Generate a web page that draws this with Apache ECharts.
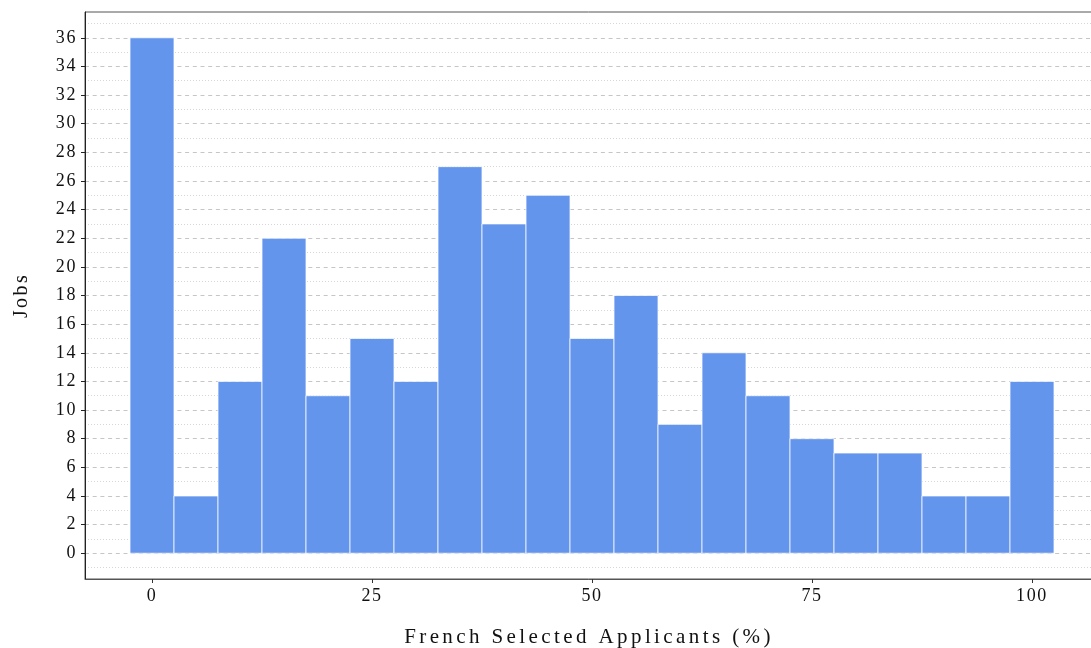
<!DOCTYPE html>
<html>
<head>
<meta charset="utf-8">
<script src="https://cdn.jsdelivr.net/npm/echarts@6/dist/echarts.min.js"></script>
<style>
  html, body { margin: 0; padding: 0; background: #fff; }
  #main { width: 1091px; height: 648px; }
</style>
</head>
<body>
<div id="main"></div>
<script>
// histogram bins (centre of each 5-point bin) and job counts
var binCenters = [0, 5, 10, 15, 20, 25, 30, 35, 40, 45, 50, 55, 60, 65, 70, 75, 80, 85, 90, 95, 100];
var jobs = [36, 4, 12, 22, 11, 15, 12, 27, 23, 25, 15, 18, 9, 14, 11, 8, 7, 7, 4, 4, 12];
var binWidth = 5;

// tick labels
var xTicks = [0, 25, 50, 75, 100];
var yTicks = [0, 2, 4, 6, 8, 10, 12, 14, 16, 18, 20, 22, 24, 26, 28, 30, 32, 34, 36];
var yMinorTicks = [-1, 1, 3, 5, 7, 9, 11, 13, 15, 17, 19, 21, 23, 25, 27, 29, 31, 33, 35, 37];

var FONT = "'Liberation Serif', 'DejaVu Serif', serif";

// canvas text gets letter spacing like the original (wider for the axis titles)
var origFillText = CanvasRenderingContext2D.prototype.fillText;
CanvasRenderingContext2D.prototype.fillText = function (t, x, y, w) {
  if (this.font.indexOf("21px") >= 0) {
    this.letterSpacing = "3.4px";
  } else if (this.font.indexOf("20px") >= 0) {
    this.letterSpacing = "2.4px";
  } else {
    this.letterSpacing = "1.6px";
  }
  return origFillText.call(this, t, x, y, w);
};

var seriesData = [];
for (var i = 0; i < binCenters.length; i++) {
  seriesData.push([binCenters[i], jobs[i]]);
}

var chart = echarts.init(document.getElementById("main"));

var option = {
  animation: false,
  backgroundColor: "#fff",
  grid: {
    left: 85,
    right: -2, // right border falls just outside the picture, as in the original
    top: 12,
    bottom: 69,
    outerBoundsMode: "none",
    containLabel: false,
    show: true,
    borderColor: "#555",
    borderWidth: 1
  },
  xAxis: {
    type: "value",
    min: -7.614,
    max: 106.93,
    name: "French Selected Applicants (%)",
    nameLocation: "middle",
    nameGap: 48,
    nameTextStyle: { fontFamily: FONT, fontSize: 21, color: "#111" },
    axisLine: { show: true, onZero: false, lineStyle: { color: "#555", width: 1 } },
    axisTick: { show: true, length: 4, customValues: xTicks, lineStyle: { color: "#333" } },
    axisLabel: {
      customValues: xTicks,
      fontFamily: FONT,
      fontSize: 18,
      color: "#111",
      margin: 8
    },
    splitLine: { show: false }
  },
  yAxis: [
    {
      type: "value",
      min: -1.8,
      max: 37.8,
      name: "Jobs",
      nameLocation: "middle",
      nameGap: 53,
      nameTextStyle: { fontFamily: FONT, fontSize: 20, color: "#111" },
      axisLine: { show: true, onZero: false, lineStyle: { color: "#222", width: 1 } },
      axisTick: { show: true, length: 4, customValues: yTicks, lineStyle: { color: "#222" } },
      axisLabel: {
        customValues: yTicks,
        fontFamily: FONT,
        fontSize: 18,
        color: "#111",
        margin: 8
      },
      splitLine: {
        show: true,
        lineStyle: { color: "#c6c6c6", type: [4, 3.7], width: 1 }
      }
    },
    {
      // only here for the dotted lines at the odd values
      type: "value",
      min: -1.8,
      max: 37.8,
      position: "left",
      axisLine: { show: false },
      axisTick: { show: false, customValues: yMinorTicks },
      axisLabel: { show: false, customValues: yMinorTicks },
      splitLine: {
        show: true,
        lineStyle: { color: "#d6d6d6", type: [1, 2], width: 1 }
      }
    }
  ],
  series: [
    {
      type: "custom",
      xAxisIndex: 0,
      yAxisIndex: 0,
      data: seriesData,
      renderItem: function (params, api) {
        var x = api.value(0);
        var y = api.value(1);
        var topLeft = api.coord([x - binWidth / 2, y]);
        var bottomRight = api.coord([x + binWidth / 2, 0]);
        return {
          type: "rect",
          shape: {
            x: topLeft[0],
            y: topLeft[1],
            width: bottomRight[0] - topLeft[0],
            height: bottomRight[1] - topLeft[1]
          },
          style: {
            fill: "#6495ED",
            stroke: "rgba(255,255,255,0.75)",
            lineWidth: 1
          }
        };
      }
    }
  ]
};

chart.setOption(option);
</script>
</body>
</html>
